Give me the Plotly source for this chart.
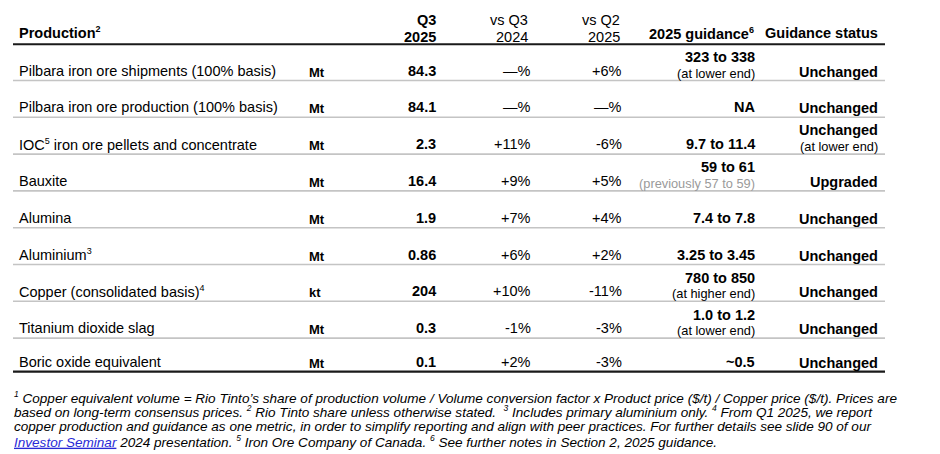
import plotly.graph_objects as go

# ---------------- data ----------------
products = [
    "Pilbara iron ore shipments (100% basis)",
    "Pilbara iron ore production (100% basis)",
    "IOC{5} iron ore pellets and concentrate",
    "Bauxite",
    "Alumina",
    "Aluminium{3}",
    "Copper (consolidated basis){4}",
    "Titanium dioxide slag",
    "Boric oxide equivalent",
]
units = ["Mt", "Mt", "Mt", "Mt", "Mt", "Mt", "kt", "Mt", "Mt"]
q3_2025 = ["84.3", "84.1", "2.3", "16.4", "1.9", "0.86", "204", "0.3", "0.1"]
vs_q3_2024 = ["—%", "—%", "+11%", "+9%", "+7%", "+6%", "+10%", "-1%", "+2%"]
vs_q2_2025 = ["+6%", "—%", "-6%", "+5%", "+4%", "+2%", "-11%", "-3%", "-3%"]
guidance_2025 = ["323 to 338", "NA", "9.7 to 11.4", "59 to 61", "7.4 to 7.8",
                 "3.25 to 3.45", "780 to 850", "1.0 to 1.2", "~0.5"]
guidance_note = ["(at lower end)", "", "", "(previously 57 to 59)", "", "",
                 "(at higher end)", "(at lower end)", ""]
guidance_note_grey = [False, False, False, True, False, False, False, False, False]
guidance_status = ["Unchanged", "Unchanged", "Unchanged", "Upgraded", "Unchanged",
                   "Unchanged", "Unchanged", "Unchanged", "Unchanged"]
status_note = ["", "", "(at lower end)", "", "", "", "", "", ""]

header_production = "Production{2}"
header_q3 = ["Q3", "2025"]
header_vs_q3 = ["vs Q3", "2024"]
header_vs_q2 = ["vs Q2", "2025"]
header_guidance = "2025 guidance{6}"
header_status = "Guidance status"

footnotes = [
    "{1} Copper equivalent volume = Rio Tinto’s share of production volume / Volume conversion factor x Product price ($/t) / Copper price ($/t). Prices are",
    "based on long-term consensus prices. {2} Rio Tinto share unless otherwise stated.  {3} Includes primary aluminium only. {4} From Q1 2025, we report",
    "copper production and guidance as one metric, in order to simplify reporting and align with peer practices. For further details see slide 90 of our",
    "<span style='color:#2a2ad6'><u>Investor Seminar</u></span> 2024 presentation. {5} Iron Ore Company of Canada. {6} See further notes in Section 2, 2025 guidance.",
]

# ---------------- layout constants ----------------
W, H = 940, 454
PAGE_OFFSET = 8  # default page margin around the plot div
FONT = "Liberation Sans, Arial, sans-serif"
FS = 14.5
FS_NOTE = 12.8
FS_FOOT = 13.55
X_LEFT, X_RIGHT = 13, 885
X_LABEL = 18
X_UNIT = 308
X_Q3 = 437
X_VSQ3 = 532
X_VSQ2 = 623
X_GUID = 756
X_STAT = 879

n = len(products)
row_bottom = [80.5 + i * 36.8 for i in range(n - 1)] + [371.7]


def sup(text, px):
    # turn {k} markers into small superscripts
    out = text
    for k in "123456":
        out = out.replace("{%s}" % k, "<sup><span style='font-size:%gpx'>%s</span></sup>" % (px, k))
    return out


fig = go.Figure()
ann = []


def add(text, x, y, anchor="right", size=FS, color="#000000", bold=False, sup_px=9):
    text = sup(text, sup_px)
    if bold:
        text = "<b>" + text + "</b>"
    ann.append(dict(text=text, x=x, y=y, xref="x", yref="y", xanchor=anchor,
                    yanchor="middle", showarrow=False, borderpad=0,
                    font=dict(family=FONT, size=size, color=color)))


# header
add(header_production, X_LABEL, 32, anchor="left", bold=True)
add(header_q3[0], X_Q3, 20, bold=True)
add(header_q3[1], X_Q3, 36.5, bold=True)
add(header_vs_q3[0], 529, 20)
add(header_vs_q3[1], 529, 36.5)
add(header_vs_q2[0], 621, 20)
add(header_vs_q2[1], 621, 36.5)
add(header_guidance, 755, 33, bold=True)
add(header_status, X_STAT, 33, bold=True)

# rows
for i in range(n):
    yb = row_bottom[i]
    ym = yb - 10
    add(products[i], X_LABEL, ym, anchor="left")
    add(units[i], X_UNIT, ym + 1.5, anchor="left", size=13, bold=True)
    add(q3_2025[i], X_Q3, ym, bold=True)
    add(vs_q3_2024[i], X_VSQ3, ym)
    add(vs_q2_2025[i], X_VSQ2, ym)
    if guidance_note[i]:
        add(guidance_2025[i], X_GUID, yb - 23.5, bold=True)
        add(guidance_note[i], X_GUID, yb - 7.5, size=FS_NOTE,
            color="#9a9a9a" if guidance_note_grey[i] else "#000000")
    else:
        add(guidance_2025[i], X_GUID, ym, bold=True)
    if status_note[i]:
        add(guidance_status[i], X_STAT, yb - 24, bold=True)
        add(status_note[i], X_STAT, yb - 7.5, size=FS_NOTE)
    else:
        add(guidance_status[i], X_STAT, yb - 9, bold=True)

# footnotes
foot_y = [397, 411.7, 426.5, 441.2]
for txt, fy in zip(footnotes, foot_y):
    add("<i>" + txt + "</i>", X_LEFT, fy, anchor="left", size=FS_FOOT, sup_px=8.5)

# rules
shapes = [
    dict(type="line", x0=X_LEFT, x1=X_RIGHT, y0=7, y1=7, xref="x", yref="y",
         line=dict(color="#1a1a1a", width=2)),
    dict(type="line", x0=X_LEFT, x1=X_RIGHT, y0=44.3, y1=44.3, xref="x", yref="y",
         line=dict(color="#1a1a1a", width=2)),
]
for i in range(n - 1):
    shapes.append(dict(type="line", x0=X_LEFT, x1=X_RIGHT, y0=row_bottom[i], y1=row_bottom[i],
                       xref="x", yref="y", line=dict(color="#c4c4c4", width=1.6)))
shapes.append(dict(type="line", x0=X_LEFT, x1=X_RIGHT, y0=row_bottom[-1], y1=row_bottom[-1],
                   xref="x", yref="y", line=dict(color="#1a1a1a", width=2.2)))

fig.update_layout(
    width=W, height=H,
    margin=dict(l=0, r=0, t=0, b=0),
    paper_bgcolor="white", plot_bgcolor="white",
    xaxis=dict(range=[PAGE_OFFSET, W + PAGE_OFFSET], showgrid=False, zeroline=False,
               showticklabels=False, showline=False, ticks="", fixedrange=True),
    yaxis=dict(range=[H + PAGE_OFFSET, PAGE_OFFSET], showgrid=False, zeroline=False,
               showticklabels=False, showline=False, ticks="", fixedrange=True),
    annotations=ann,
    shapes=shapes,
    showlegend=False,
)

fig.write_html("out.html", config={"displayModeBar": False})
